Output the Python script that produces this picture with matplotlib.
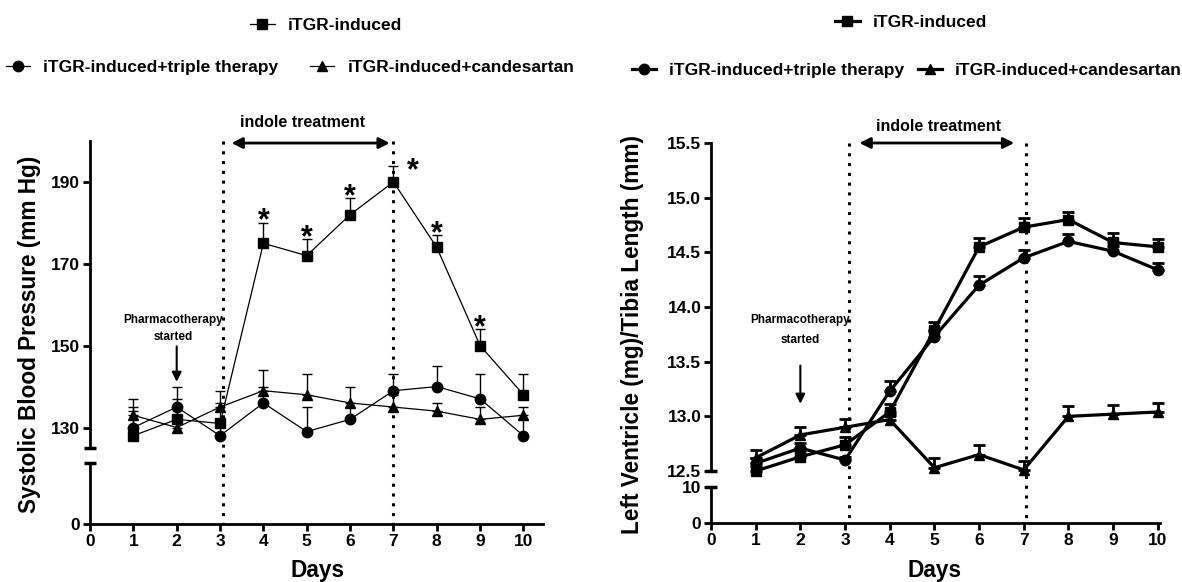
import numpy as np
import matplotlib
matplotlib.use("Agg")
import matplotlib.pyplot as plt
from matplotlib.lines import Line2D
import matplotlib.transforms as mtransforms

plt.rcParams['font.family'] = ['Liberation Sans', 'DejaVu Sans']
plt.rcParams['font.weight'] = 'bold'

days = [1, 2, 3, 4, 5, 6, 7, 8, 9, 10]
day_ticks = [0, 1, 2, 3, 4, 5, 6, 7, 8, 9, 10]
series_names = ['iTGR-induced', 'iTGR-induced+triple therapy', 'iTGR-induced+candesartan']

# systolic blood pressure (mm Hg), mean and upper SEM
bp_itgr = [128, 132, 131, 175, 172, 182, 190, 174, 150, 138]
bp_itgr_err = [6, 5, 5, 5, 4, 4, 4, 3, 4, 5]
bp_triple = [130, 135, 128, 136, 129, 132, 139, 140, 137, 128]
bp_triple_err = [5, 5, 3, 4, 6, 3, 4, 5, 6, 4]
bp_cand = [133, 130, 135, 139, 138, 136, 135, 134, 132, 133]
bp_cand_err = [4, 2, 4, 5, 5, 4, 3, 2, 3, 2]
bp_star_days = [4, 5, 6, 7, 8, 9]

# left ventricle / tibia length
lv_itgr = [12.50, 12.63, 12.74, 13.04, 13.79, 14.55, 14.73, 14.80, 14.59, 14.55]
lv_itgr_err = [0.05, 0.05, 0.07, 0.07, 0.07, 0.08, 0.08, 0.07, 0.09, 0.07]
lv_triple = [12.57, 12.71, 12.60, 13.23, 13.73, 14.20, 14.45, 14.60, 14.51, 14.34]
lv_triple_err = [0.05, 0.05, 0.03, 0.09, 0.05, 0.08, 0.07, 0.07, 0.05, 0.06]
lv_cand = [12.62, 12.83, 12.90, 12.97, 12.53, 12.65, 12.51, 13.00, 13.02, 13.04]
lv_cand_err = [0.07, 0.07, 0.08, 0.04, 0.09, 0.09, 0.08, 0.09, 0.08, 0.08]

markers = ['s', 'o', '^']
W, H = 1182, 582
fig = plt.figure(figsize=(W / 100, H / 100), dpi=100)


def px_box(x0, x1, y0, y1):
    return [x0 / W, 1 - y1 / H, (x1 - x0) / W, (y1 - y0) / H]


def style_axes(ax_up, ax_lo, xmax, up_lim, lo_lim, up_ticks, up_labels, lo_ticks):
    for a in (ax_up, ax_lo):
        a.set_xlim(0, xmax)
        a.spines['top'].set_visible(False)
        a.spines['right'].set_visible(False)
        a.spines['left'].set_linewidth(2.0)
        a.spines['bottom'].set_linewidth(2.0)
        a.tick_params(width=2, length=5, labelsize=12.5, pad=2)
        a.patch.set_alpha(0)
    ax_up.spines['bottom'].set_visible(False)
    ax_up.tick_params(axis='x', bottom=False, labelbottom=False)
    ax_up.set_ylim(*up_lim)
    ax_lo.set_ylim(*lo_lim)
    ax_up.set_yticks(up_ticks)
    ax_up.set_yticklabels(up_labels)
    ax_lo.set_yticks(lo_ticks)
    ax_lo.set_xticks(day_ticks)
    for lab in ax_up.get_yticklabels() + ax_lo.get_yticklabels() + ax_lo.get_xticklabels():
        lab.set_fontweight('bold')
    # break caps
    ax_up.plot(0, up_lim[0], marker='_', ms=8, mew=2.5, color='k', clip_on=False)
    ax_lo.plot(0, lo_lim[1], marker='_', ms=8, mew=2.5, color='k', clip_on=False)


def draw_series(ax, ys, errs, lw, ms, cap, elw):
    for y, e, m in zip(ys, errs, markers):
        ax.errorbar(days, y, yerr=[np.zeros(len(e)), e], fmt='none', ecolor='k',
                    elinewidth=elw, capsize=cap, capthick=elw, zorder=2, clip_on=False)
        ax.plot(days, y, color='k', lw=lw, marker=m, ms=ms, mfc='k', mec='k', zorder=3,
                clip_on=False)


def vlines(ax, xs, ytop, ybot):
    tr = mtransforms.blended_transform_factory(ax.transData, fig.transFigure)
    for x in xs:
        fig.add_artist(Line2D([x, x], [1 - ytop / H, 1 - ybot / H], transform=tr,
                              color='k', lw=2.2, ls=(0, (1, 2.2))))


# ---------- left panel ----------
axL = fig.add_axes(px_box(90, 543, 141, 448))
axLl = fig.add_axes(px_box(90, 543, 463, 524))
style_axes(axL, axLl, 10.45, (125, 200), (0, 10), [130, 150, 170, 190],
           ['130', '150', '170', '190'], [0])
draw_series(axL, [bp_itgr, bp_triple, bp_cand], [bp_itgr_err, bp_triple_err, bp_cand_err],
            lw=0.9, ms=7.5, cap=3.8, elw=1.0)
for d in bp_star_days:
    i = days.index(d)
    xs = d + (0.45 if d == 7 else 0)
    ys = bp_itgr[i] + bp_itgr_err[i] + (-1.5 if d == 7 else 0.3)
    axL.text(xs, ys, '*', ha='center', va='center', fontsize=22, fontweight='bold')
vlines(axL, [3.07, 6.99], 141, 524)
axL.annotate('', xy=(3.2, 199.5), xytext=(6.98, 199.5),
             arrowprops=dict(arrowstyle='<|-|>', lw=2, color='k', mutation_scale=16),
             annotation_clip=False)
axL.text(4.9, 204.6, 'indole treatment', ha='center', va='center', fontsize=11.5, fontweight='bold')
axL.text(1.92, 154.2, 'Pharmacotherapy\nstarted', ha='center', va='center', fontsize=8.5,
         fontweight='bold', linespacing=1.6)
axL.annotate('', xy=(2, 140.5), xytext=(2, 150.5),
             arrowprops=dict(arrowstyle='-|>', lw=1.5, color='k', mutation_scale=14))
fig.text(30 / W, 1 - 334 / H, 'Systolic Blood Pressure (mm Hg)', rotation=90,
         ha='center', va='center', fontsize=16.3, fontweight='bold')
fig.text(317 / W, 1 - 571 / H, 'Days', ha='center', va='center', fontsize=16.3, fontweight='bold')

# ---------- right panel ----------
axR = fig.add_axes(px_box(711, 1160, 143, 471))
axRl = fig.add_axes(px_box(711, 1160, 487, 523))
r_ticks = [12.5, 13.0, 13.5, 14.0, 14.5, 15.0, 15.5]
style_axes(axR, axRl, 10.05, (12.5, 15.5), (0, 10), r_ticks,
           ['%.1f' % t for t in r_ticks], [0, 10])
draw_series(axR, [lv_itgr, lv_triple, lv_cand], [lv_itgr_err, lv_triple_err, lv_cand_err],
            lw=2.3, ms=7.5, cap=4.2, elw=2.0)
vlines(axR, [3.09, 7.05], 143, 523)
axR.annotate('', xy=(3.26, 15.5), xytext=(6.85, 15.5),
             arrowprops=dict(arrowstyle='<|-|>', lw=2, color='k', mutation_scale=16),
             annotation_clip=False)
axR.text(5.1, 15.65, 'indole treatment', ha='center', va='center', fontsize=11.5, fontweight='bold')
axR.text(2.0, 13.79, 'Pharmacotherapy\nstarted', ha='center', va='center', fontsize=8.5,
         fontweight='bold', linespacing=1.8)
axR.annotate('', xy=(2, 13.09), xytext=(2, 13.49),
             arrowprops=dict(arrowstyle='-|>', lw=1.5, color='k', mutation_scale=14))
fig.text(633 / W, 1 - 334 / H, 'Left Ventricle (mg)/Tibia Length (mm)', rotation=90,
         ha='center', va='center', fontsize=16.3, fontweight='bold')
fig.text(935 / W, 1 - 571 / H, 'Days', ha='center', va='center', fontsize=16.3, fontweight='bold')

# ---------- legends ----------
def handles(lw, ms):
    return [Line2D([], [], color='k', lw=lw, marker=m, ms=ms) for m in markers]


hl = handles(0.9, 7.5)
hr = handles(2.3, 7.5)
leg_kw = dict(frameon=False, loc='center', prop={'weight': 'bold', 'size': 12.5},
              handlelength=1.4, handletextpad=0.75, borderpad=0, borderaxespad=0)
fig.legend([hl[0]], [series_names[0]], bbox_to_anchor=(326 / W, 1 - 25 / H), **leg_kw)
fig.legend(hl[1:], series_names[1:], ncol=2, columnspacing=1.85,
           bbox_to_anchor=(290 / W, 1 - 67 / H), **leg_kw)
fig.legend([hr[0]], [series_names[0]], bbox_to_anchor=(911 / W, 1 - 22 / H), **leg_kw)
fig.legend(hr[1:], series_names[1:], ncol=2, columnspacing=0.75,
           bbox_to_anchor=(907 / W, 1 - 70 / H), **leg_kw)

fig.savefig('out.png', dpi=100)
